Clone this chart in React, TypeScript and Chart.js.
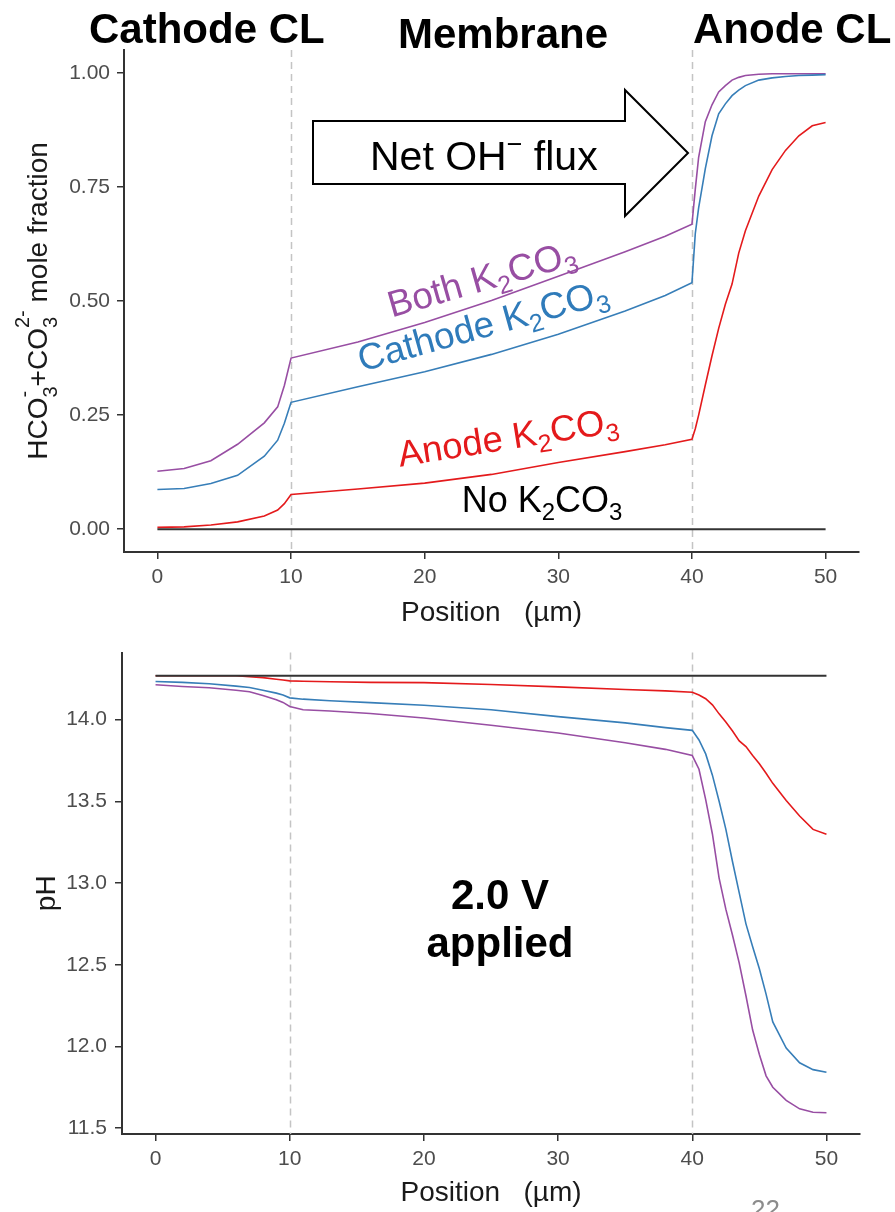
import React, { useEffect, useRef } from 'react';
import { Chart, registerables } from 'chart.js';

Chart.register(...registerables);

const FONT = "'Liberation Sans', Arial, Helvetica, sans-serif";

// ---------- top panel: HCO3- + CO3 2- mole fraction ----------
const fractionPositions = [0, 2, 4, 6, 8, 9, 9.5, 10, 15, 20, 25, 30, 35, 38, 40, 40.25, 40.5, 41, 41.5, 42, 42.5, 43, 43.5, 44, 45, 46, 47, 48, 49, 50];
const fractionBoth = [0.127, 0.133, 0.150, 0.186, 0.233, 0.268, 0.315, 0.375, 0.41, 0.453, 0.501, 0.554, 0.608, 0.642, 0.668, 0.745, 0.815, 0.893, 0.930, 0.958, 0.972, 0.984, 0.990, 0.994, 0.997, 0.998, 0.998, 0.998, 0.998, 0.998];
const fractionCathode = [0.087, 0.089, 0.100, 0.118, 0.160, 0.195, 0.232, 0.278, 0.312, 0.345, 0.383, 0.427, 0.478, 0.512, 0.540, 0.648, 0.704, 0.79, 0.862, 0.91, 0.932, 0.95, 0.962, 0.972, 0.984, 0.989, 0.992, 0.994, 0.995, 0.996];
const fractionAnode = [0.004, 0.005, 0.009, 0.016, 0.029, 0.042, 0.056, 0.076, 0.088, 0.101, 0.12, 0.146, 0.170, 0.185, 0.197, 0.22, 0.25, 0.316, 0.38, 0.44, 0.493, 0.537, 0.605, 0.654, 0.73, 0.788, 0.83, 0.862, 0.884, 0.891];
const fractionNone = [0, 0, 0, 0, 0, 0, 0, 0, 0, 0, 0, 0, 0, 0, 0, 0, 0, 0, 0, 0, 0, 0, 0, 0, 0, 0, 0, 0, 0, 0];

// ---------- bottom panel: pH ----------
const phPositions = [0, 2, 4, 6, 7, 8, 9, 9.5, 10, 11, 13, 16, 20, 25, 30, 35, 38, 40, 40.5, 41, 41.5, 42, 42.5, 43, 43.5, 44, 44.5, 45, 45.5, 46, 47, 48, 49, 50];
const phBoth = [14.213, 14.203, 14.195, 14.180, 14.170, 14.148, 14.122, 14.105, 14.08, 14.06, 14.053, 14.037, 14.01, 13.965, 13.918, 13.858, 13.818, 13.78, 13.696, 13.51, 13.30, 13.03, 12.84, 12.68, 12.51, 12.31, 12.1, 11.95, 11.82, 11.75, 11.67, 11.618, 11.597, 11.594];
const phCathode = [14.233, 14.228, 14.219, 14.205, 14.196, 14.18, 14.162, 14.15, 14.133, 14.125, 14.115, 14.104, 14.088, 14.06, 14.018, 13.98, 13.951, 13.934, 13.875, 13.79, 13.66, 13.50, 13.33, 13.13, 12.94, 12.75, 12.61, 12.475, 12.32, 12.15, 11.99, 11.9, 11.858, 11.842];
const phAnode = [14.268, 14.268, 14.268, 14.268, 14.262, 14.257, 14.247, 14.242, 14.237, 14.235, 14.232, 14.228, 14.226, 14.215, 14.2, 14.184, 14.176, 14.167, 14.15, 14.128, 14.09, 14.035, 13.985, 13.93, 13.87, 13.835, 13.78, 13.73, 13.672, 13.61, 13.505, 13.41, 13.328, 13.298];
const phNone = [14.268, 14.268, 14.268, 14.268, 14.268, 14.268, 14.268, 14.268, 14.268, 14.268, 14.268, 14.268, 14.268, 14.268, 14.268, 14.268, 14.268, 14.268, 14.268, 14.268, 14.268, 14.268, 14.268, 14.268, 14.268, 14.268, 14.268, 14.268, 14.268, 14.268, 14.268, 14.268, 14.268, 14.268];

// ---------- ticks / labels ----------
const positionTicks = [0, 10, 20, 30, 40, 50];
const fractionTicks = [0, 0.25, 0.5, 0.75, 1];
const phTicks = [11.5, 12, 12.5, 13, 13.5, 14];
const layerBoundaries = [10, 40];
const seriesNames = ['Both K2CO3', 'Cathode K2CO3', 'Anode K2CO3', 'No K2CO3'];
const seriesColors = ['#984EA3', '#377EB8', '#E41A1C', '#333333'];

type Run = { t: string; s: number; w?: string; dy?: number; sup?: string; supDy?: number };

function fontOf(r: Run) {
  return `${r.w || 'normal'} ${r.s}px ${FONT}`;
}
function runWidth(ctx: CanvasRenderingContext2D, r: Run) {
  ctx.font = fontOf(r);
  let w = ctx.measureText(r.t).width;
  if (r.sup) w = Math.max(w, ctx.measureText(r.sup).width);
  return w;
}
function drawRuns(ctx: CanvasRenderingContext2D, runs: Run[], x: number, y: number, angleDeg: number, align: string, color: string) {
  ctx.save();
  ctx.translate(x, y);
  ctx.rotate((angleDeg * Math.PI) / 180);
  ctx.fillStyle = color;
  ctx.textAlign = 'left';
  ctx.textBaseline = 'alphabetic';
  let total = 0;
  for (const r of runs) total += runWidth(ctx, r);
  let cx = align === 'center' ? -total / 2 : 0;
  for (const r of runs) {
    ctx.font = fontOf(r);
    ctx.fillText(r.t, cx, r.dy || 0);
    if (r.sup) ctx.fillText(r.sup, cx, r.supDy || 0);
    cx += runWidth(ctx, r);
  }
  ctx.restore();
}
function k2co3(prefix: string, size: number): Run[] {
  const sub = Math.round(size * 0.68);
  const dy = Math.round(size * 0.22);
  return [
    { t: prefix + 'K', s: size },
    { t: '2', s: sub, dy },
    { t: 'CO', s: size },
    { t: '3', s: sub, dy },
  ];
}

const fractionLabels = [
  { prefix: 'Both ', x: 17.53, y: 0.464, angle: -16, color: '#984EA3', size: 37 },
  { prefix: 'Cathode ', x: 15.29, y: 0.345, angle: -15.5, color: '#2F7BBA', size: 37 },
  { prefix: 'Anode ', x: 18.15, y: 0.137, angle: -9, color: '#E41A1C', size: 36.5 },
  { prefix: 'No ', x: 22.77, y: 0.038, angle: 0, color: '#000000', size: 36 },
];

function drawBoundaries(chart: any) {
  const { ctx, chartArea } = chart;
  const xs = chart.scales.x;
  ctx.save();
  ctx.strokeStyle = '#c4c4c4';
  ctx.lineWidth = 1.5;
  ctx.setLineDash([7, 5]);
  for (const b of layerBoundaries) {
    const px = Math.round(xs.getPixelForValue(b)) + 0.5;
    ctx.beginPath();
    ctx.moveTo(px, chartArea.top);
    ctx.lineTo(px, chartArea.bottom);
    ctx.stroke();
  }
  ctx.restore();
}

const topOverlay = {
  id: 'topOverlay',
  beforeDatasetsDraw(chart: any) {
    drawBoundaries(chart);
  },
  afterDraw(chart: any) {
    const ctx: CanvasRenderingContext2D = chart.ctx;
    const xs = chart.scales.x;
    const ys = chart.scales.y;
    // slide headings
    drawRuns(ctx, [{ t: 'Cathode CL', s: 42, w: 'bold' }], 89, 43, 0, 'left', '#000');
    drawRuns(ctx, [{ t: 'Membrane', s: 42, w: 'bold' }], 398, 48, 0, 'left', '#000');
    drawRuns(ctx, [{ t: 'Anode CL', s: 42, w: 'bold' }], 693, 43, 0, 'left', '#000');
    // flux arrow
    ctx.save();
    ctx.beginPath();
    ctx.moveTo(313, 121);
    ctx.lineTo(625, 121);
    ctx.lineTo(625, 90);
    ctx.lineTo(688, 153);
    ctx.lineTo(625, 216);
    ctx.lineTo(625, 184);
    ctx.lineTo(313, 184);
    ctx.closePath();
    ctx.fillStyle = '#ffffff';
    ctx.fill();
    ctx.lineWidth = 2;
    ctx.strokeStyle = '#000';
    ctx.lineJoin = 'miter';
    ctx.stroke();
    ctx.restore();
    drawRuns(ctx, [
      { t: 'Net OH', s: 41 },
      { t: '\u2212', s: 27, dy: -17 },
      { t: ' flux', s: 41 },
    ], 370, 170, 0, 'left', '#000');
    // series labels
    for (const a of fractionLabels) {
      drawRuns(ctx, k2co3(a.prefix, a.size), xs.getPixelForValue(a.x), ys.getPixelForValue(a.y), a.angle, 'left', a.color);
    }
    // y axis title with sub/superscripts
    const cy = (chart.chartArea.top + chart.chartArea.bottom) / 2;
    drawRuns(ctx, [
      { t: 'HCO', s: 28 },
      { t: '3', s: 20, dy: 10, sup: '-', supDy: -16 },
      { t: '+CO', s: 28 },
      { t: '3', s: 20, dy: 10, sup: '2-', supDy: -18 },
      { t: ' mole fraction', s: 28 },
    ], 47, cy, -90, 'center', '#1a1a1a');
  },
};

const bottomOverlay = {
  id: 'bottomOverlay',
  beforeDatasetsDraw(chart: any) {
    drawBoundaries(chart);
  },
  afterDraw(chart: any) {
    const ctx: CanvasRenderingContext2D = chart.ctx;
    const xs = chart.scales.x;
    const ys = chart.scales.y;
    drawRuns(ctx, [{ t: '2.0 V', s: 42, w: 'bold' }], xs.getPixelForValue(25.67), ys.getPixelForValue(12.841), 0, 'center', '#000');
    drawRuns(ctx, [{ t: 'applied', s: 42, w: 'bold' }], xs.getPixelForValue(25.67), ys.getPixelForValue(12.549), 0, 'center', '#000');
    ctx.save();
    ctx.font = `normal 26px ${FONT}`;
    ctx.fillStyle = '#8c8c8c';
    ctx.textBaseline = 'top';
    ctx.fillText('22', 751, 566);
    ctx.restore();
  },
};

function datasets(xs: number[], values: number[][]) {
  return values.map((v, i) => ({
    label: seriesNames[i],
    data: xs.map((x, j) => ({ x, y: v[j] })),
    borderColor: seriesColors[i],
    backgroundColor: seriesColors[i],
    borderWidth: i === 3 ? 2 : 1.6,
    pointRadius: 0,
    tension: 0,
    fill: false,
    order: 3 - i,
  }));
}

function xScale(height: number) {
  return {
    type: 'linear',
    min: -2.5,
    max: 52.5,
    afterBuildTicks: (s: any) => { s.ticks = positionTicks.map((v) => ({ value: v })); },
    afterFit: (s: any) => { s.height = height; },
    grid: { display: true, drawOnChartArea: false, drawTicks: true, tickLength: 7, color: '#333', lineWidth: 1.5 },
    border: { display: true, color: '#333', width: 2 },
    ticks: { font: { family: FONT, size: 21 }, color: '#4d4d4d', padding: 6, maxRotation: 0, callback: (v: any) => String(v) },
    title: { display: true, text: 'Position   (\u00b5m)', font: { family: FONT, size: 28 }, color: '#1a1a1a', padding: { top: 0, bottom: 2 } },
  };
}

function topConfig(): any {
  return {
    type: 'line',
    data: { datasets: datasets(fractionPositions, [fractionBoth, fractionCathode, fractionAnode, fractionNone]) },
    options: {
      animation: false,
      responsive: false,
      devicePixelRatio: 1,
      layout: { padding: { top: 50, right: 36, left: 0, bottom: 0 } },
      plugins: { legend: { display: false }, tooltip: { enabled: false }, title: { display: false } },
      scales: {
        x: xScale(80),
        y: {
          type: 'linear',
          min: -0.05,
          max: 1.05,
          afterBuildTicks: (s: any) => { s.ticks = fractionTicks.map((v) => ({ value: v })); },
          afterFit: (s: any) => { s.width = 124; },
          grid: { display: true, drawOnChartArea: false, drawTicks: true, tickLength: 7, color: '#333', lineWidth: 1.5 },
          border: { display: true, color: '#333', width: 2 },
          ticks: { font: { family: FONT, size: 21 }, color: '#4d4d4d', padding: 7, callback: (v: any) => Number(v).toFixed(2) },
        },
      },
    },
    plugins: [topOverlay],
  };
}

function bottomConfig(): any {
  return {
    type: 'line',
    data: { datasets: datasets(phPositions, [phBoth, phCathode, phAnode, phNone]) },
    options: {
      animation: false,
      responsive: false,
      devicePixelRatio: 1,
      layout: { padding: { top: 8, right: 35, left: 0, bottom: 0 } },
      plugins: { legend: { display: false }, tooltip: { enabled: false }, title: { display: false } },
      scales: {
        x: xScale(78),
        y: {
          type: 'linear',
          min: 11.464,
          max: 14.41,
          afterBuildTicks: (s: any) => { s.ticks = phTicks.map((v) => ({ value: v })); },
          afterFit: (s: any) => { s.width = 122; },
          grid: { display: true, drawOnChartArea: false, drawTicks: true, tickLength: 7, color: '#333', lineWidth: 1.5 },
          border: { display: true, color: '#333', width: 2 },
          ticks: { font: { family: FONT, size: 21 }, color: '#4d4d4d', padding: 8, callback: (v: any) => Number(v).toFixed(1) },
          title: { display: true, text: 'pH', font: { family: FONT, size: 28 }, color: '#1a1a1a', padding: { top: 30, bottom: 0 } },
        },
      },
    },
    plugins: [bottomOverlay],
  };
}

export default function App() {
  const topRef = useRef<HTMLCanvasElement>(null);
  const bottomRef = useRef<HTMLCanvasElement>(null);
  useEffect(() => {
    const c1 = new Chart(topRef.current as HTMLCanvasElement, topConfig());
    const c2 = new Chart(bottomRef.current as HTMLCanvasElement, bottomConfig());
    return () => {
      c1.destroy();
      c2.destroy();
    };
  }, []);
  return (
    <div style={{ position: 'absolute', left: 0, top: 0, width: 895, height: 1212, background: '#ffffff', overflow: 'hidden' }}>
      <canvas ref={topRef} width={895} height={632} style={{ position: 'absolute', left: 0, top: 0, width: 895, height: 632 }} />
      <canvas ref={bottomRef} width={895} height={580} style={{ position: 'absolute', left: 0, top: 632, width: 895, height: 580 }} />
    </div>
  );
}
